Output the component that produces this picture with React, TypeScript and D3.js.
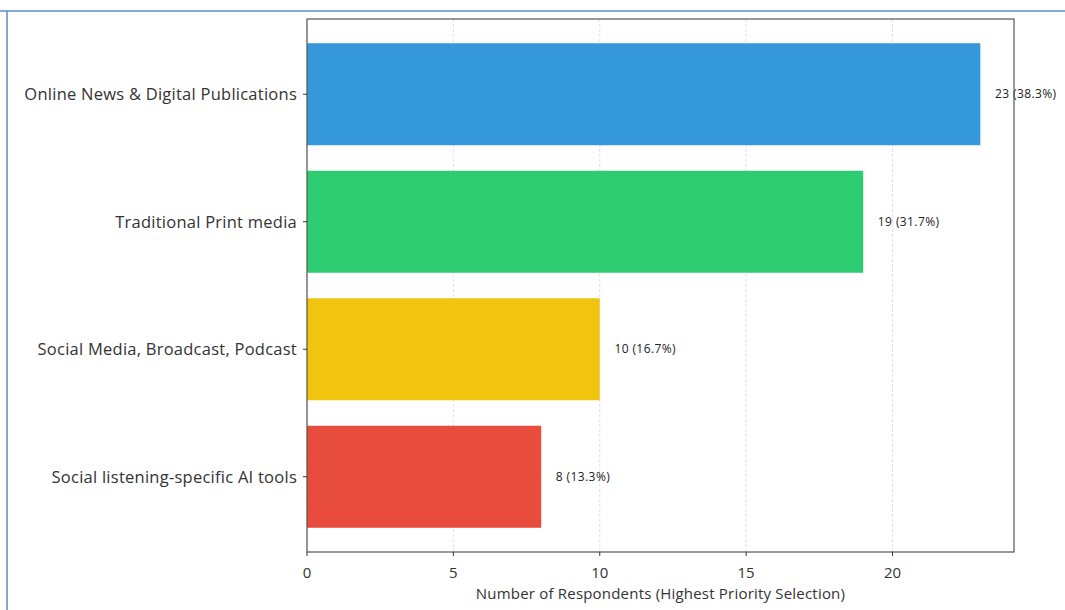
import React, { useEffect, useRef } from "react";
import * as d3 from "d3";

const categories = [
  "Online News & Digital Publications",
  "Traditional Print media",
  "Social Media, Broadcast, Podcast",
  "Social listening-specific AI tools",
];
const counts = [23, 19, 10, 8];
const percents = [38.3, 31.7, 16.7, 13.3];
const barColors = ["#3498db", "#2ecc71", "#f1c40f", "#e74c3c"];
const xTicks = [0, 5, 10, 15, 20];
const xLabel = "Number of Respondents (Highest Priority Selection)";

const W = 1065;
const H = 610;
const plot = { left: 307, top: 19, right: 1014, bottom: 552 };
const FONT = "'Open Sans', 'Noto Sans', sans-serif";

export default function App() {
  const ref = useRef<SVGSVGElement | null>(null);

  useEffect(() => {
    const svg = d3.select(ref.current);
    svg.selectAll("*").remove();

    const maxV = d3.max(counts) as number;
    const x = d3
      .scaleLinear()
      .domain([0, maxV * 1.05])
      .range([plot.left, plot.right]);

    // category positions: index 0..n-1, bars 0.8 tall, 5% padding on the span
    const n = categories.length;
    const lo = -0.4, hi = n - 1 + 0.4;
    const pad = (hi - lo) * 0.05;
    const y = d3
      .scaleLinear()
      .domain([lo - pad, hi + pad])
      .range([plot.top, plot.bottom]);
    const barH = y(0.8) - y(0);

    // outer box border
    svg
      .append("line")
      .attr("x1", 0)
      .attr("x2", W)
      .attr("y1", 11)
      .attr("y2", 11)
      .attr("stroke", "#5b8bd0")
      .attr("stroke-width", 1.5);
    svg
      .append("line")
      .attr("x1", 7)
      .attr("x2", 7)
      .attr("y1", 11)
      .attr("y2", H)
      .attr("stroke", "#5b8bd0")
      .attr("stroke-width", 1.5);

    // vertical grid
    svg
      .append("g")
      .selectAll("line")
      .data(xTicks)
      .join("line")
      .attr("x1", (d) => x(d))
      .attr("x2", (d) => x(d))
      .attr("y1", plot.top)
      .attr("y2", plot.bottom)
      .attr("stroke", "#d8d8d8")
      .attr("stroke-width", 0.8)
      .attr("stroke-dasharray", "3,2");

    // bars
    svg
      .append("g")
      .selectAll("rect")
      .data(counts)
      .join("rect")
      .attr("x", x(0))
      .attr("y", (_, i) => y(i - 0.4))
      .attr("width", (d) => x(d) - x(0))
      .attr("height", barH)
      .attr("fill", (_, i) => barColors[i]);

    // value labels
    svg
      .append("g")
      .selectAll("text")
      .data(counts)
      .join("text")
      .attr("x", (d) => x(d + 0.5))
      .attr("y", (_, i) => y(i))
      .attr("dy", "0.35em")
      .attr("font-family", FONT)
      .attr("font-size", 12)
      .attr("letter-spacing", 0.4)
      .attr("fill", "#222")
      .text((d, i) => `${d} (${percents[i].toFixed(1)}%)`);

    // frame
    svg
      .append("rect")
      .attr("x", plot.left)
      .attr("y", plot.top)
      .attr("width", plot.right - plot.left)
      .attr("height", plot.bottom - plot.top)
      .attr("fill", "none")
      .attr("stroke", "#555")
      .attr("stroke-width", 1.2);

    // x axis ticks and labels
    const xg = svg.append("g");
    xg.selectAll("line")
      .data(xTicks)
      .join("line")
      .attr("x1", (d) => x(d))
      .attr("x2", (d) => x(d))
      .attr("y1", plot.bottom)
      .attr("y2", plot.bottom + 4)
      .attr("stroke", "#333");
    xg.selectAll("text")
      .data(xTicks)
      .join("text")
      .attr("x", (d) => x(d))
      .attr("y", plot.bottom + 26)
      .attr("text-anchor", "middle")
      .attr("font-family", FONT)
      .attr("font-size", 15)
      .attr("fill", "#333")
      .text((d) => String(d));

    svg
      .append("text")
      .attr("x", (plot.left + plot.right) / 2)
      .attr("y", plot.bottom + 47)
      .attr("text-anchor", "middle")
      .attr("font-family", FONT)
      .attr("font-size", 15)
      .attr("letter-spacing", 0.2)
      .attr("fill", "#333")
      .text(xLabel);

    // y axis ticks and labels
    const yg = svg.append("g");
    yg.selectAll("line")
      .data(categories)
      .join("line")
      .attr("x1", plot.left - 4)
      .attr("x2", plot.left)
      .attr("y1", (_, i) => y(i))
      .attr("y2", (_, i) => y(i))
      .attr("stroke", "#333");
    yg.selectAll("text")
      .data(categories)
      .join("text")
      .attr("x", plot.left - 10)
      .attr("y", (_, i) => y(i))
      .attr("dy", "0.35em")
      .attr("text-anchor", "end")
      .attr("font-family", FONT)
      .attr("font-size", 16.5)
      .attr("letter-spacing", 0.25)
      .attr("fill", "#333")
      .text((d) => d);
  }, []);

  return (
    <svg
      ref={ref}
      width={W}
      height={H}
      style={{ position: "absolute", left: 0, top: 0, background: "#fff" }}
    />
  );
}
